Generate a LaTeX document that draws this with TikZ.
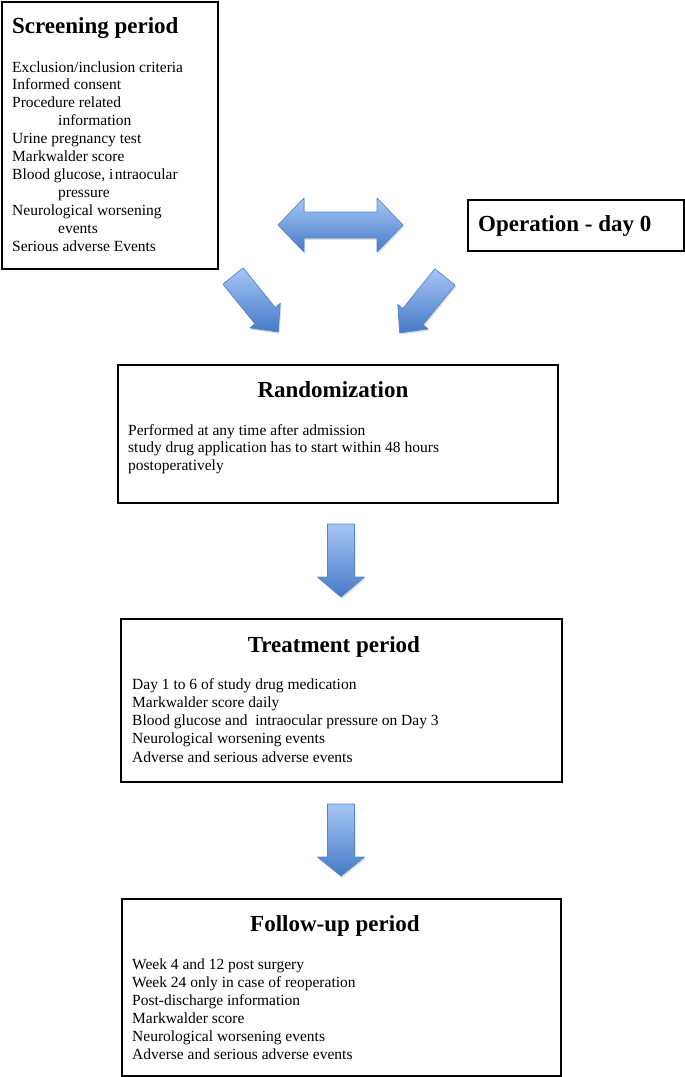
\documentclass[tikz,border=0pt]{standalone}
\usepackage{fontspec}
\setmainfont{Liberation Serif}
\usetikzlibrary{calc,shadows}
\definecolor{arrowlight}{RGB}{166,198,246}
\definecolor{arrowdark}{RGB}{70,122,198}
\definecolor{arrowline}{RGB}{86,134,198}
\newcommand\myBody[1]{\fontsize{15.5}{#1}\selectfont}
\begin{document}
\begin{tikzpicture}[x=1pt,y=-1pt,
  box/.style={draw=black, line width=1.8pt, inner sep=0pt, anchor=north west},
  ttl/.style={font=\bfseries\fontsize{23}{27}\selectfont, inner sep=0pt, anchor=base},
  ttlw/.style={ttl, anchor=base west},
  body/.style={inner sep=0pt, anchor=base west},
  blockarrow/.style={draw=arrowline, line width=0.7pt, line join=round,
    top color=arrowlight, bottom color=arrowdark,
    drop shadow={shadow xshift=1.2pt, shadow yshift=-1.8pt, opacity=0.22, fill=black!60}}]
\useasboundingbox (0,0) rectangle (685,1077);

% boxes
\node[box, minimum width=216pt, minimum height=267pt] (screen) at (1,1) {};
\node[box, minimum width=216pt, minimum height=51pt] (oper) at (467,199) {};
\node[box, minimum width=440pt, minimum height=138pt] (rand) at (117,364) {};
\node[box, minimum width=441pt, minimum height=163pt] (treat) at (120,618) {};
\node[box, minimum width=439pt, minimum height=177pt] (follow) at (121,898) {};

% screening
\node[ttlw] (screenttl) at ($(screen.north west)+(11,32)$) {Screening period};
\node[body] (screentxt) at ($(screen.north west)+(11,71)$) {\parbox[t]{205pt}{\raggedright\myBody{17.9}%
Exclusion/inclusion criteria\\
Informed consent\\
Procedure related\\
\hspace*{46pt}information\\
Urine pregnancy test\\
Markwalder score\\
Blood glucose, i\kern1.5pt ntraocular\\
\hspace*{46pt}pressure\\
Neurological worsening\\
\hspace*{46pt}events\\
Serious adverse Events}};

% operation
\node[ttlw] (operttl) at ($(oper.north west)+(11,32)$) {Operation - day 0};

% randomization
\node[ttl] (randttl) at ($(rand.north)+(-5,33)$) {Randomization};
\node[body] (randtxt) at ($(rand.north west)+(11,71)$) {\parbox[t]{400pt}{\raggedright\myBody{17.6}%
Performed at any time after admission\\
study drug application has to start within 48 hours\\
postoperatively}};

% treatment
\node[ttl] (treatttl) at ($(treat.north)+(-7.5,34)$) {Treatment period};
\node[body] (treattxt) at ($(treat.north west)+(12,71)$) {\parbox[t]{400pt}{\raggedright\myBody{18.25}%
Day 1 to 6 of study drug medication\\
Markwalder score daily\\
Blood glucose and\ \ intraocular pressure on Day 3\\
Neurological worsening events\\
Adverse and serious adverse events}};

% follow-up
\node[ttl] (followttl) at ($(follow.north)+(-6.5,33)$) {Follow-up period};
\node[body] (followtxt) at ($(follow.north west)+(11,71)$) {\parbox[t]{400pt}{\raggedright\myBody{18}%
Week 4 and 12 post surgery\\
Week 24 only in case of reoperation\\
Post-discharge information\\
Markwalder score\\
Neurological worsening events\\
Adverse and serious adverse events}};

% double arrow between screening and operation
\path[blockarrow] (278,225) -- (304,198) -- (304,212) -- (377,212) -- (377,198)
  -- (403,225) -- (377,252) -- (377,238) -- (304,238) -- (304,252) -- cycle;

% diagonal arrows into randomization
\begin{scope}[shift={(233,276)}, rotate=39]
\path[blockarrow] (-13,0) -- (13,0) -- (13,51) -- (19.5,51) -- (0,72) -- (-19.5,51) -- (-13,51) -- cycle;
\end{scope}
\begin{scope}[shift={(445,277)}, rotate=-39]
\path[blockarrow] (-13,0) -- (13,0) -- (13,51) -- (19.5,51) -- (0,72) -- (-19.5,51) -- (-13,51) -- cycle;
\end{scope}

% down arrows
\begin{scope}[shift={(341,524)}]
\path[blockarrow] (-13.5,0) -- (13.5,0) -- (13.5,53) -- (23.5,53) -- (0,73) -- (-23.5,53) -- (-13.5,53) -- cycle;
\end{scope}
\begin{scope}[shift={(341,804)}]
\path[blockarrow] (-13.5,0) -- (13.5,0) -- (13.5,53) -- (23.5,53) -- (0,72) -- (-23.5,53) -- (-13.5,53) -- cycle;
\end{scope}
\end{tikzpicture}
\end{document}
